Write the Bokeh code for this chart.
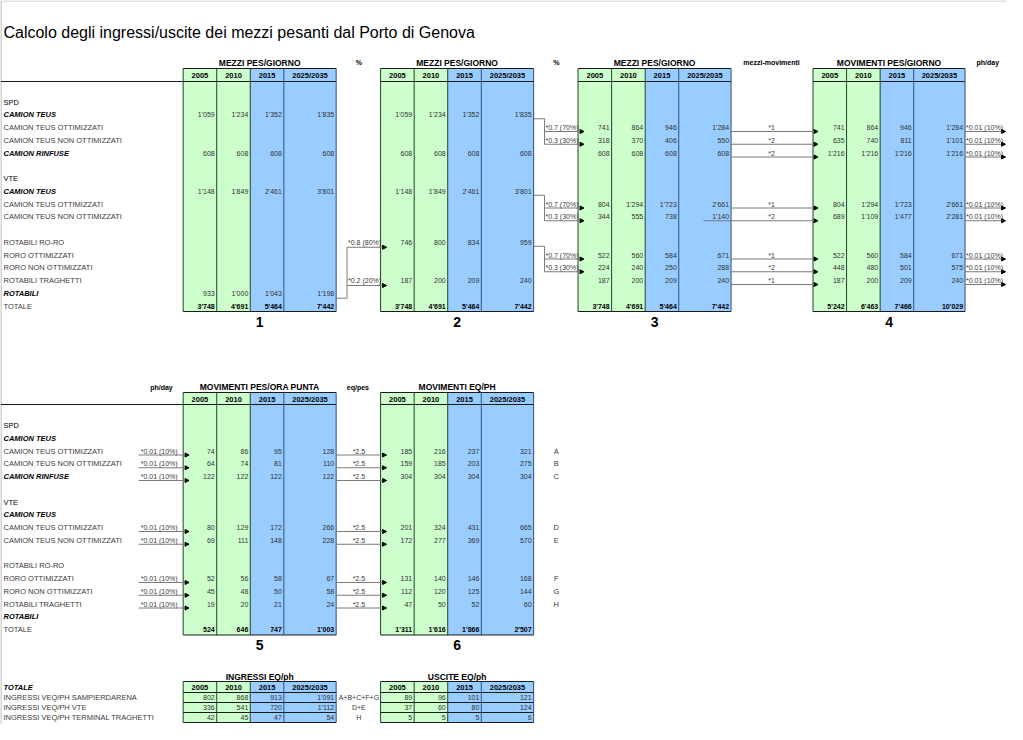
from bokeh.plotting import figure
from bokeh.models import Range1d, ColumnDataSource, Arrow, NormalHead
from bokeh.core.properties import value
from bokeh.embed import file_html
from bokeh.resources import INLINE

FONT = "Liberation Sans"

# ---------------- texts ----------------
TITLE = "Calcolo degli ingressi/uscite dei mezzi pesanti dal Porto di Genova"
YEARS = ["2005", "2010", "2015", "2025/2035"]
ROW_LABELS = ["SPD", "CAMION TEUS", "CAMION TEUS OTTIMIZZATI", "CAMION TEUS NON OTTIMIZZATI",
              "CAMION RINFUSE", "", "VTE", "CAMION TEUS", "CAMION TEUS OTTIMIZZATI",
              "CAMION TEUS NON OTTIMIZZATI", "", "ROTABILI RO-RO", "RORO OTTIMIZZATI",
              "RORO NON OTTIMIZZATI", "ROTABILI TRAGHETTI", "ROTABILI", "TOTALE"]
ROW_KINDS = ["h", "bi", "n", "n", "bi", "n", "h", "bi", "n", "n", "n", "n", "n", "n", "n", "bi", "n"]

# ---------------- data ----------------
# 1 - MEZZI PES/GIORNO
t1_spd_camion_teus = [1059, 1234, 1352, 1835]
t1_spd_camion_rinfuse = [608, 608, 608, 608]
t1_vte_camion_teus = [1148, 1849, 2461, 3801]
t1_rotabili = [933, 1000, 1043, 1198]
t1_totale = [3748, 4691, 5464, 7442]
# 2 - MEZZI PES/GIORNO
t2_spd_camion_teus = [1059, 1234, 1352, 1835]
t2_spd_camion_rinfuse = [608, 608, 608, 608]
t2_vte_camion_teus = [1148, 1849, 2461, 3801]
t2_rotabili_roro = [746, 800, 834, 959]
t2_rotabili_traghetti = [187, 200, 209, 240]
t2_totale = [3748, 4691, 5464, 7442]
# 3 - MEZZI PES/GIORNO
t3_spd_ott = [741, 864, 946, 1284]
t3_spd_non_ott = [318, 370, 406, 550]
t3_spd_rinfuse = [608, 608, 608, 608]
t3_vte_ott = [804, 1294, 1723, 2661]
t3_vte_non_ott = [344, 555, 738, 1140]
t3_roro_ott = [522, 560, 584, 671]
t3_roro_non_ott = [224, 240, 250, 288]
t3_traghetti = [187, 200, 209, 240]
t3_totale = [3748, 4691, 5464, 7442]
# 4 - MOVIMENTI PES/GIORNO
t4_spd_ott = [741, 864, 946, 1284]
t4_spd_non_ott = [635, 740, 811, 1101]
t4_spd_rinfuse = [1216, 1216, 1216, 1216]
t4_vte_ott = [804, 1294, 1723, 2661]
t4_vte_non_ott = [689, 1109, 1477, 2281]
t4_roro_ott = [522, 560, 584, 671]
t4_roro_non_ott = [448, 480, 501, 575]
t4_traghetti = [187, 200, 209, 240]
t4_totale = [5242, 6463, 7466, 10029]
# 5 - MOVIMENTI PES/ORA PUNTA
t5_spd_ott = [74, 86, 95, 128]
t5_spd_non_ott = [64, 74, 81, 110]
t5_spd_rinfuse = [122, 122, 122, 122]
t5_vte_ott = [80, 129, 172, 266]
t5_vte_non_ott = [69, 111, 148, 228]
t5_roro_ott = [52, 56, 58, 67]
t5_roro_non_ott = [45, 48, 50, 58]
t5_traghetti = [19, 20, 21, 24]
t5_totale = [524, 646, 747, 1003]
# 6 - MOVIMENTI EQ/PH
t6_spd_ott = [185, 216, 237, 321]
t6_spd_non_ott = [159, 185, 203, 275]
t6_spd_rinfuse = [304, 304, 304, 304]
t6_vte_ott = [201, 324, 431, 665]
t6_vte_non_ott = [172, 277, 369, 570]
t6_roro_ott = [131, 140, 146, 168]
t6_roro_non_ott = [112, 120, 125, 144]
t6_traghetti = [47, 50, 52, 60]
t6_totale = [1311, 1616, 1866, 2507]
t6_letters = ["A", "B", "C", "D", "E", "F", "G", "H"]
# factors
split_2_3 = ["*0.7 (70%)", "*0.3 (30%)"]
split_1_2 = ["*0.8 (80%)", "*0.2 (20%)"]
mezzi_mov = ["*1", "*2", "*2", "*1", "*2", "*1", "*2", "*1"]
ph_day = "*0.01 (10%)"
eq_pes = "*2.5"
# bottom tables
bottom_labels = ["INGRESSI VEQ/PH SAMPIERDARENA", "INGRESSI VEQ/PH VTE", "INGRESSI VEQ/PH TERMINAL TRAGHETTI"]
ingressi_sampierdarena = [802, 868, 913, 1091]
ingressi_vte = [336, 541, 720, 1112]
ingressi_traghetti = [42, 45, 47, 54]
uscite_sampierdarena = [89, 96, 101, 121]
uscite_vte = [37, 60, 80, 124]
uscite_traghetti = [5, 5, 5, 6]
formulas = ["A+B+C+F+G", "D+E", "H"]

# ---------------- layout ----------------
GREEN = "#CCFFCC"
BLUE = "#99CCFF"
EDGES_A = [185, 219, 253, 287, 340]
EDGES_B = [385, 419, 453, 487, 540]
EDGES_C = [585, 619, 653, 687, 740]
EDGES_D = [823, 857, 891, 925, 977]
TOP = dict(title_y=62, h0=68, h1=81, base=101.5, step=12.75)
BOT = dict(title_y=386.5, h0=392, h1=404, base=425, step=12.75)
FLOW_ROWS = [2, 3, 4, 8, 9, 12, 13, 14]


def fmt(v):
    return f"{v:,}".replace(",", "'")


def ry(sec, i):
    return sec["base"] + sec["step"] * i


texts = {}


def T(x, y, s, size="7px", style="normal", color="#262626", align="left"):
    d = texts.setdefault((size, style, color, align), {"x": [], "y": [], "t": []})
    d["x"].append(x)
    d["y"].append(y)
    d["t"].append(s)


lines = {}


def L(x0, y0, x1, y1, color="#1a1a1a", width=1.0):
    d = lines.setdefault((color, width), {"xs": [], "ys": []})
    d["xs"].append([x0, x1])
    d["ys"].append([y0, y1])


quads = {"l": [], "r": [], "t": [], "b": [], "c": []}
arrows = {"x0": [], "y0": [], "x1": [], "y1": []}


def A(x0, y, x1):
    arrows["x0"].append(x0)
    arrows["y0"].append(y)
    arrows["x1"].append(x1)
    arrows["y1"].append(y)


def columns(edges, top, bottom):
    for i in range(4):
        quads["l"].append(edges[i])
        quads["r"].append(edges[i + 1])
        quads["t"].append(top)
        quads["b"].append(bottom)
        quads["c"].append(GREEN if i < 2 else BLUE)
    for i, x in enumerate(edges):
        col = "#24402a" if i <= 2 else "#2b4f7a"
        L(x, top, x, bottom, col)


def block(edges, title, sec, rows, num):
    bottom = ry(sec, 16) + 5.5
    columns(edges, sec["h0"], bottom)
    L(edges[0], sec["h0"], edges[-1], sec["h0"])
    L(edges[0], sec["h1"], edges[-1], sec["h1"])
    L(edges[0], bottom, edges[-1], bottom)
    cx = (edges[0] + edges[-1]) / 2
    T(cx, sec["title_y"], title, "8.5px", "bold", "#000000", "center")
    for i, yr in enumerate(YEARS):
        T((edges[i] + edges[i + 1]) / 2, (sec["h0"] + sec["h1"]) / 2 + 0.5, yr,
          "7.5px", "bold", "#000000", "center")
    for r, vals in rows.items():
        bold = r == 16
        for i, v in enumerate(vals):
            T(edges[i + 1] - 2, ry(sec, r), fmt(v), "7px", "bold" if bold else "normal",
              "#000000" if bold else "#333333", "right")
    T(cx, ry(sec, 16) + 15.5, num, "14px", "bold", "#000000", "center")


def row_labels(sec):
    for i, (lab, kind) in enumerate(zip(ROW_LABELS, ROW_KINDS)):
        if not lab:
            continue
        if kind == "bi":
            T(3, ry(sec, i), lab, "7.5px", "bold italic", "#000000")
        elif kind == "h":
            T(3, ry(sec, i), lab, "7.5px", "normal", "#000000")
        else:
            T(3, ry(sec, i), lab, "7.5px", "normal", "#3a3a3a")
    L(0, sec["h1"], EDGES_A[0], sec["h1"])


# ---------------- figure ----------------
p = figure(width=1007, height=724, x_range=Range1d(0, 1020), y_range=Range1d(724, 0),
           output_backend="svg", toolbar_location=None, min_border=0,
           x_axis_location=None, y_axis_location=None)
p.grid.visible = False
p.outline_line_color = None
p.background_fill_color = "white"

T(3, 32, TITLE, "16px", "normal", "#000000")
L(0.5, 0, 0.5, 724, "#a8a8a8")
L(0, 0.5, 1020, 0.5, "#c8c8c8")

# top section
row_labels(TOP)
block(EDGES_A, "MEZZI PES/GIORNO", TOP,
      {1: t1_spd_camion_teus, 4: t1_spd_camion_rinfuse, 7: t1_vte_camion_teus,
       15: t1_rotabili, 16: t1_totale}, "1")
block(EDGES_B, "MEZZI PES/GIORNO", TOP,
      {1: t2_spd_camion_teus, 4: t2_spd_camion_rinfuse, 7: t2_vte_camion_teus,
       11: t2_rotabili_roro, 14: t2_rotabili_traghetti, 16: t2_totale}, "2")
t3_rows = [t3_spd_ott, t3_spd_non_ott, t3_spd_rinfuse, t3_vte_ott, t3_vte_non_ott,
           t3_roro_ott, t3_roro_non_ott, t3_traghetti]
block(EDGES_C, "MEZZI PES/GIORNO", TOP, {**dict(zip(FLOW_ROWS, t3_rows)), 16: t3_totale}, "3")
t4_rows = [t4_spd_ott, t4_spd_non_ott, t4_spd_rinfuse, t4_vte_ott, t4_vte_non_ott,
           t4_roro_ott, t4_roro_non_ott, t4_traghetti]
block(EDGES_D, "MOVIMENTI PES/GIORNO", TOP, {**dict(zip(FLOW_ROWS, t4_rows)), 16: t4_totale}, "4")

T(363, TOP["title_y"], "%", "7px", "bold", "#000000", "center")
T(563, TOP["title_y"], "%", "7px", "bold", "#000000", "center")
T(781, TOP["title_y"], "mezzi-movimenti", "7px", "bold", "#000000", "center")
T(1000, TOP["title_y"], "ph/day", "7px", "bold", "#000000", "center")

LC = "#7a7a7a"
# 1 -> 2
yb = ry(TOP, 15) + 5
L(EDGES_A[-1], yb, 351, yb, LC)
L(351, ry(TOP, 11) + 5, 351, yb, LC)
for r, lab in zip([11, 14], split_1_2):
    A(351, ry(TOP, r) + 5, 391)
    T(352, ry(TOP, r), lab, "7px", "normal", "#3a3a3a")
# 2 -> 3
for src, tg in [(1, [2, 3]), (7, [8, 9]), (11, [12, 13])]:
    y0 = ry(TOP, src) + 4
    L(EDGES_B[-1], y0, 551, y0, LC)
    L(551, y0, 551, ry(TOP, tg[-1]) + 4, LC)
    for r, lab in zip(tg, split_2_3):
        A(551, ry(TOP, r) + 4, 591)
        T(552, ry(TOP, r), lab, "7px", "normal", "#3a3a3a")
# 3 -> 4 and 4 -> out
for r, f in zip(FLOW_ROWS, mezzi_mov):
    start = 712 if r == 9 else EDGES_C[-1]
    A(start, ry(TOP, r) + 4, 828)
    T(781, ry(TOP, r), f, "7px", "normal", "#3a3a3a", "center")
    A(EDGES_D[-1], ry(TOP, r) + 4, 1018)
    T(978, ry(TOP, r), ph_day, "7px", "normal", "#3a3a3a")

# bottom section
row_labels(BOT)
t5_rows = [t5_spd_ott, t5_spd_non_ott, t5_spd_rinfuse, t5_vte_ott, t5_vte_non_ott,
           t5_roro_ott, t5_roro_non_ott, t5_traghetti]
block(EDGES_A, "MOVIMENTI PES/ORA PUNTA", BOT, {**dict(zip(FLOW_ROWS, t5_rows)), 16: t5_totale}, "5")
t6_rows = [t6_spd_ott, t6_spd_non_ott, t6_spd_rinfuse, t6_vte_ott, t6_vte_non_ott,
           t6_roro_ott, t6_roro_non_ott, t6_traghetti]
block(EDGES_B, "MOVIMENTI EQ/PH", BOT, {**dict(zip(FLOW_ROWS, t6_rows)), 16: t6_totale}, "6")
T(163, BOT["title_y"], "ph/day", "7px", "bold", "#000000", "center")
T(362, BOT["title_y"], "eq/pes", "7px", "bold", "#000000", "center")
for r, letter in zip(FLOW_ROWS, t6_letters):
    A(140, ry(BOT, r) + 4, 191)
    T(142, ry(BOT, r), ph_day, "7px", "normal", "#3a3a3a")
    A(EDGES_A[-1], ry(BOT, r) + 4, 391)
    T(363, ry(BOT, r), eq_pes, "7px", "normal", "#3a3a3a", "center")
    T(563, ry(BOT, r), letter, "7.5px", "normal", "#3a3a3a", "center")

# bottom summary tables
SUM_TITLE_Y = 676
SUM_H0 = 681
SUM_H1 = 692
SUM_STEP = 10
T(3, 686.5, "TOTALE", "7.5px", "bold italic", "#000000")
for lab_i, lab in enumerate(bottom_labels):
    T(3, SUM_H1 + SUM_STEP * lab_i + 5, lab, "7.5px", "normal", "#3a3a3a")
    T(363, SUM_H1 + SUM_STEP * lab_i + 5, formulas[lab_i], "7px", "normal", "#3a3a3a", "center")
for edges, title, rows in [(EDGES_A, "INGRESSI EQ/ph", [ingressi_sampierdarena, ingressi_vte, ingressi_traghetti]),
                           (EDGES_B, "USCITE EQ/ph", [uscite_sampierdarena, uscite_vte, uscite_traghetti])]:
    bottom = SUM_H1 + SUM_STEP * len(rows)
    columns(edges, SUM_H0, bottom)
    T((edges[0] + edges[-1]) / 2, SUM_TITLE_Y, title, "8.5px", "bold", "#000000", "center")
    L(edges[0], SUM_H0, edges[-1], SUM_H0)
    for k in range(len(rows) + 1):
        L(edges[0], SUM_H1 + SUM_STEP * k, edges[-1], SUM_H1 + SUM_STEP * k)
    for i, yr in enumerate(YEARS):
        T((edges[i] + edges[i + 1]) / 2, (SUM_H0 + SUM_H1) / 2, yr, "7.5px", "bold", "#000000", "center")
    for k, vals in enumerate(rows):
        for i, v in enumerate(vals):
            T(edges[i + 1] - 2, SUM_H1 + SUM_STEP * k + 5, fmt(v), "7px", "normal", "#333333", "right")

# ---------------- render ----------------
p.quad(left="l", right="r", top="t", bottom="b", fill_color="c", line_color=None,
       source=ColumnDataSource(quads))
for (color, width), d in lines.items():
    p.multi_line(xs=d["xs"], ys=d["ys"], line_color=color, line_width=width)
p.add_layout(Arrow(end=NormalHead(size=4, fill_color="black", line_color="black", line_width=1),
                   x_start="x0", y_start="y0", x_end="x1", y_end="y1",
                   source=ColumnDataSource(arrows), line_color=LC, line_width=1))
for (size, style, color, align), d in texts.items():
    src = ColumnDataSource({"x": d["x"], "y": d["y"], "t": d["t"]})
    p.text(x="x", y="y", text="t", source=src, text_font=value(FONT),
           text_font_size=value(size), text_font_style=value(style),
           text_color=color, text_align=value(align), text_baseline=value("middle"))

open("out.html", "w").write(file_html(p, INLINE))
